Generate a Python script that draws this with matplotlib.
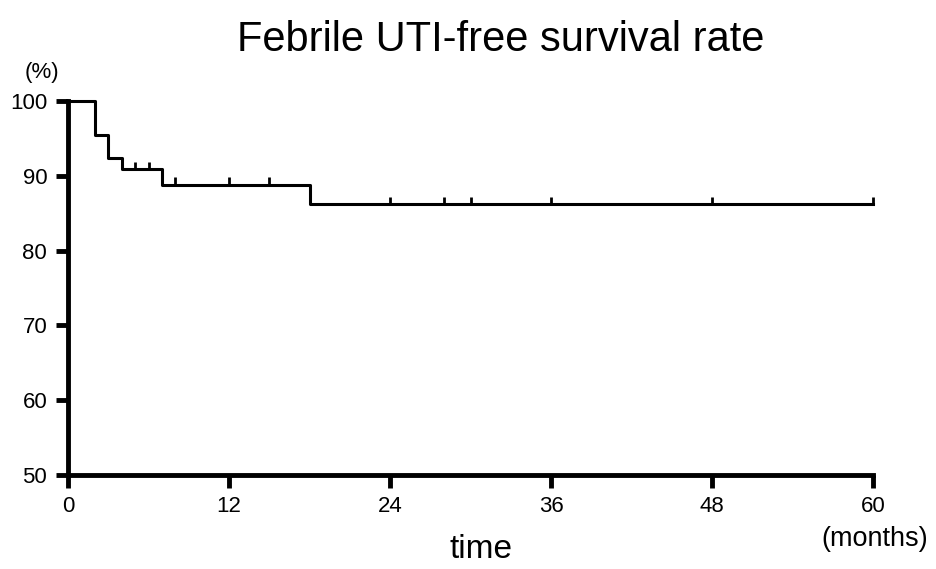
import numpy as np
import matplotlib.pyplot as plt

plt.rcParams['font.family'] = ['Liberation Sans', 'DejaVu Sans']

# Kaplan-Meier step data (months, %)
step_times = [0, 2, 3, 4, 7, 18, 60]
step_rates = [100, 95.4, 92.4, 90.9, 88.8, 86.2, 86.2]
censor_times = [5, 6, 8, 12, 15, 24, 28, 30, 36, 48, 60]
x_ticks = [0, 12, 24, 36, 48, 60]
y_ticks = [50, 60, 70, 80, 90, 100]


def rate_at(t):
    idx = np.searchsorted(step_times, t, side='right') - 1
    return step_rates[idx]


fig = plt.figure(figsize=(9.37, 5.69), dpi=100)
ax = fig.add_axes([0.0726, 0.165, 0.8591, 0.6575])

ax.step(step_times, step_rates, where='post', color='black', lw=2.2,
        clip_on=False, zorder=3)

# censor marks
for t in censor_times:
    y = rate_at(t)
    ax.plot([t, t], [y, y + 1.0], color='black', lw=2.0, clip_on=False,
            solid_capstyle='butt', zorder=3)

ax.set_xlim(0, 60)
ax.set_ylim(50, 100)
ax.spines['top'].set_visible(False)
ax.spines['right'].set_visible(False)
ax.spines['left'].set_linewidth(3.5)
ax.spines['bottom'].set_linewidth(3.5)
ax.set_xticks(x_ticks)
ax.set_yticks(y_ticks)
ax.tick_params(axis='both', direction='out', width=3.5, length=9,
               labelsize=16)
ax.tick_params(axis='x', pad=6)
ax.tick_params(axis='y', pad=6)

fig.text(0.534, 0.93, 'Febrile UTI-free survival rate', ha='center',
         va='center', fontsize=30)
fig.text(0.045, 0.873, '(%)', ha='center', va='center', fontsize=16)
fig.text(0.513, 0.035, 'time', ha='center', va='center', fontsize=24)
fig.text(0.933, 0.053, '(months)', ha='center', va='center', fontsize=19.5)

fig.savefig('out.png', dpi=100)
